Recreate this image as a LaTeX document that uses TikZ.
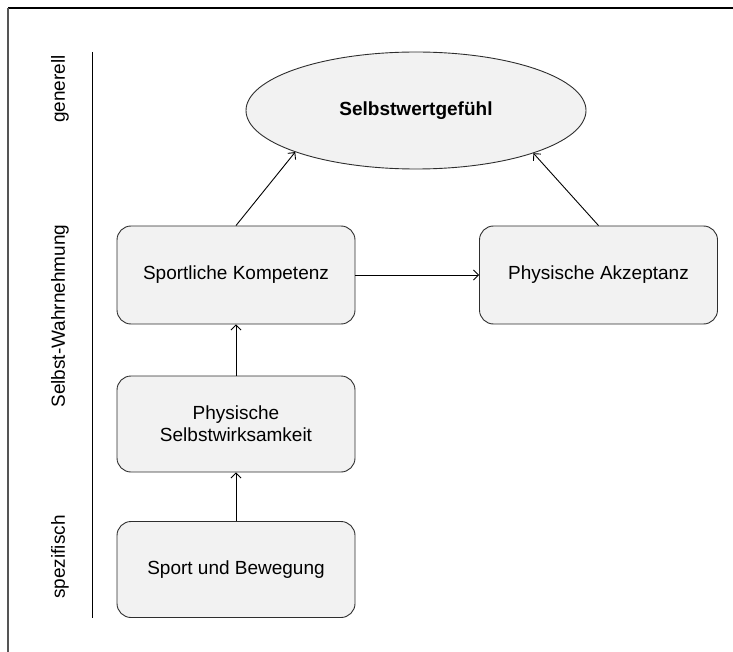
\documentclass[tikz,border=0pt]{standalone}
\usepackage{fontspec}
\setmainfont{Liberation Sans}
\usetikzlibrary{shapes.geometric,arrows.meta}
\definecolor{boxfill}{HTML}{F2F2F2}
\definecolor{boxline}{HTML}{2E2E2E}
\definecolor{frameline}{HTML}{555555}
\begin{document}
\begin{tikzpicture}[x=1pt,y=-1pt,
  every node/.style={font=\fontsize{19}{22}\selectfont, text=black},
  stepbox/.style={draw=boxline, line width=0.9pt, fill=boxfill, rounded corners=14pt,
    minimum width=238pt, minimum height=98pt, align=center, inner sep=0pt},
  goal/.style={ellipse, draw=boxline, line width=0.9pt, fill=boxfill,
    minimum width=340pt, minimum height=117pt, inner sep=0pt},
  level/.style={rotate=90, anchor=center},
  link/.style={line width=0.9pt, draw=black,
    -{Straight Barb[length=5pt,width=10pt,line width=0.9pt]}}]
\useasboundingbox (0,0) rectangle (733,652);

% page frame (top and left edges)
\draw[line width=1.5pt, black] (8,8) -- (733,8);
\draw[line width=1.5pt, frameline] (8,8) -- (8,652);

% level axis
\draw[line width=0.9pt] (92,52) -- (92,618);
\node[level] (lgen) at (60,89) {generell};
\node[level] (lself) at (60,316) {Selbst-Wahrnehmung};
\node[level] (lspec) at (60,557) {spezifisch};

% nodes
\node[goal] (ell) at (416,110.5) {\bfseries Selbstwertgefühl};
\node[stepbox] (sk) at (236,275) {Sportliche Kompetenz};
\node[stepbox] (pa) at (598.5,275) {Physische Akzeptanz};
\node[stepbox, minimum height=96pt] (ps) at (236,424) {Physische\\Selbstwirksamkeit};
\node[stepbox, minimum height=96pt] (sb) at (236,569.5) {Sport und Bewegung};

% connectors
\draw[link] (sk.north) -- (ell.199.4);
\draw[link] (pa.north) -- (ell.340.6);
\draw[link] (sk.east) -- (pa.west);
\draw[link] (ps.north) -- (sk.south);
\draw[link] (sb.north) -- (ps.south);
\end{tikzpicture}
\end{document}
